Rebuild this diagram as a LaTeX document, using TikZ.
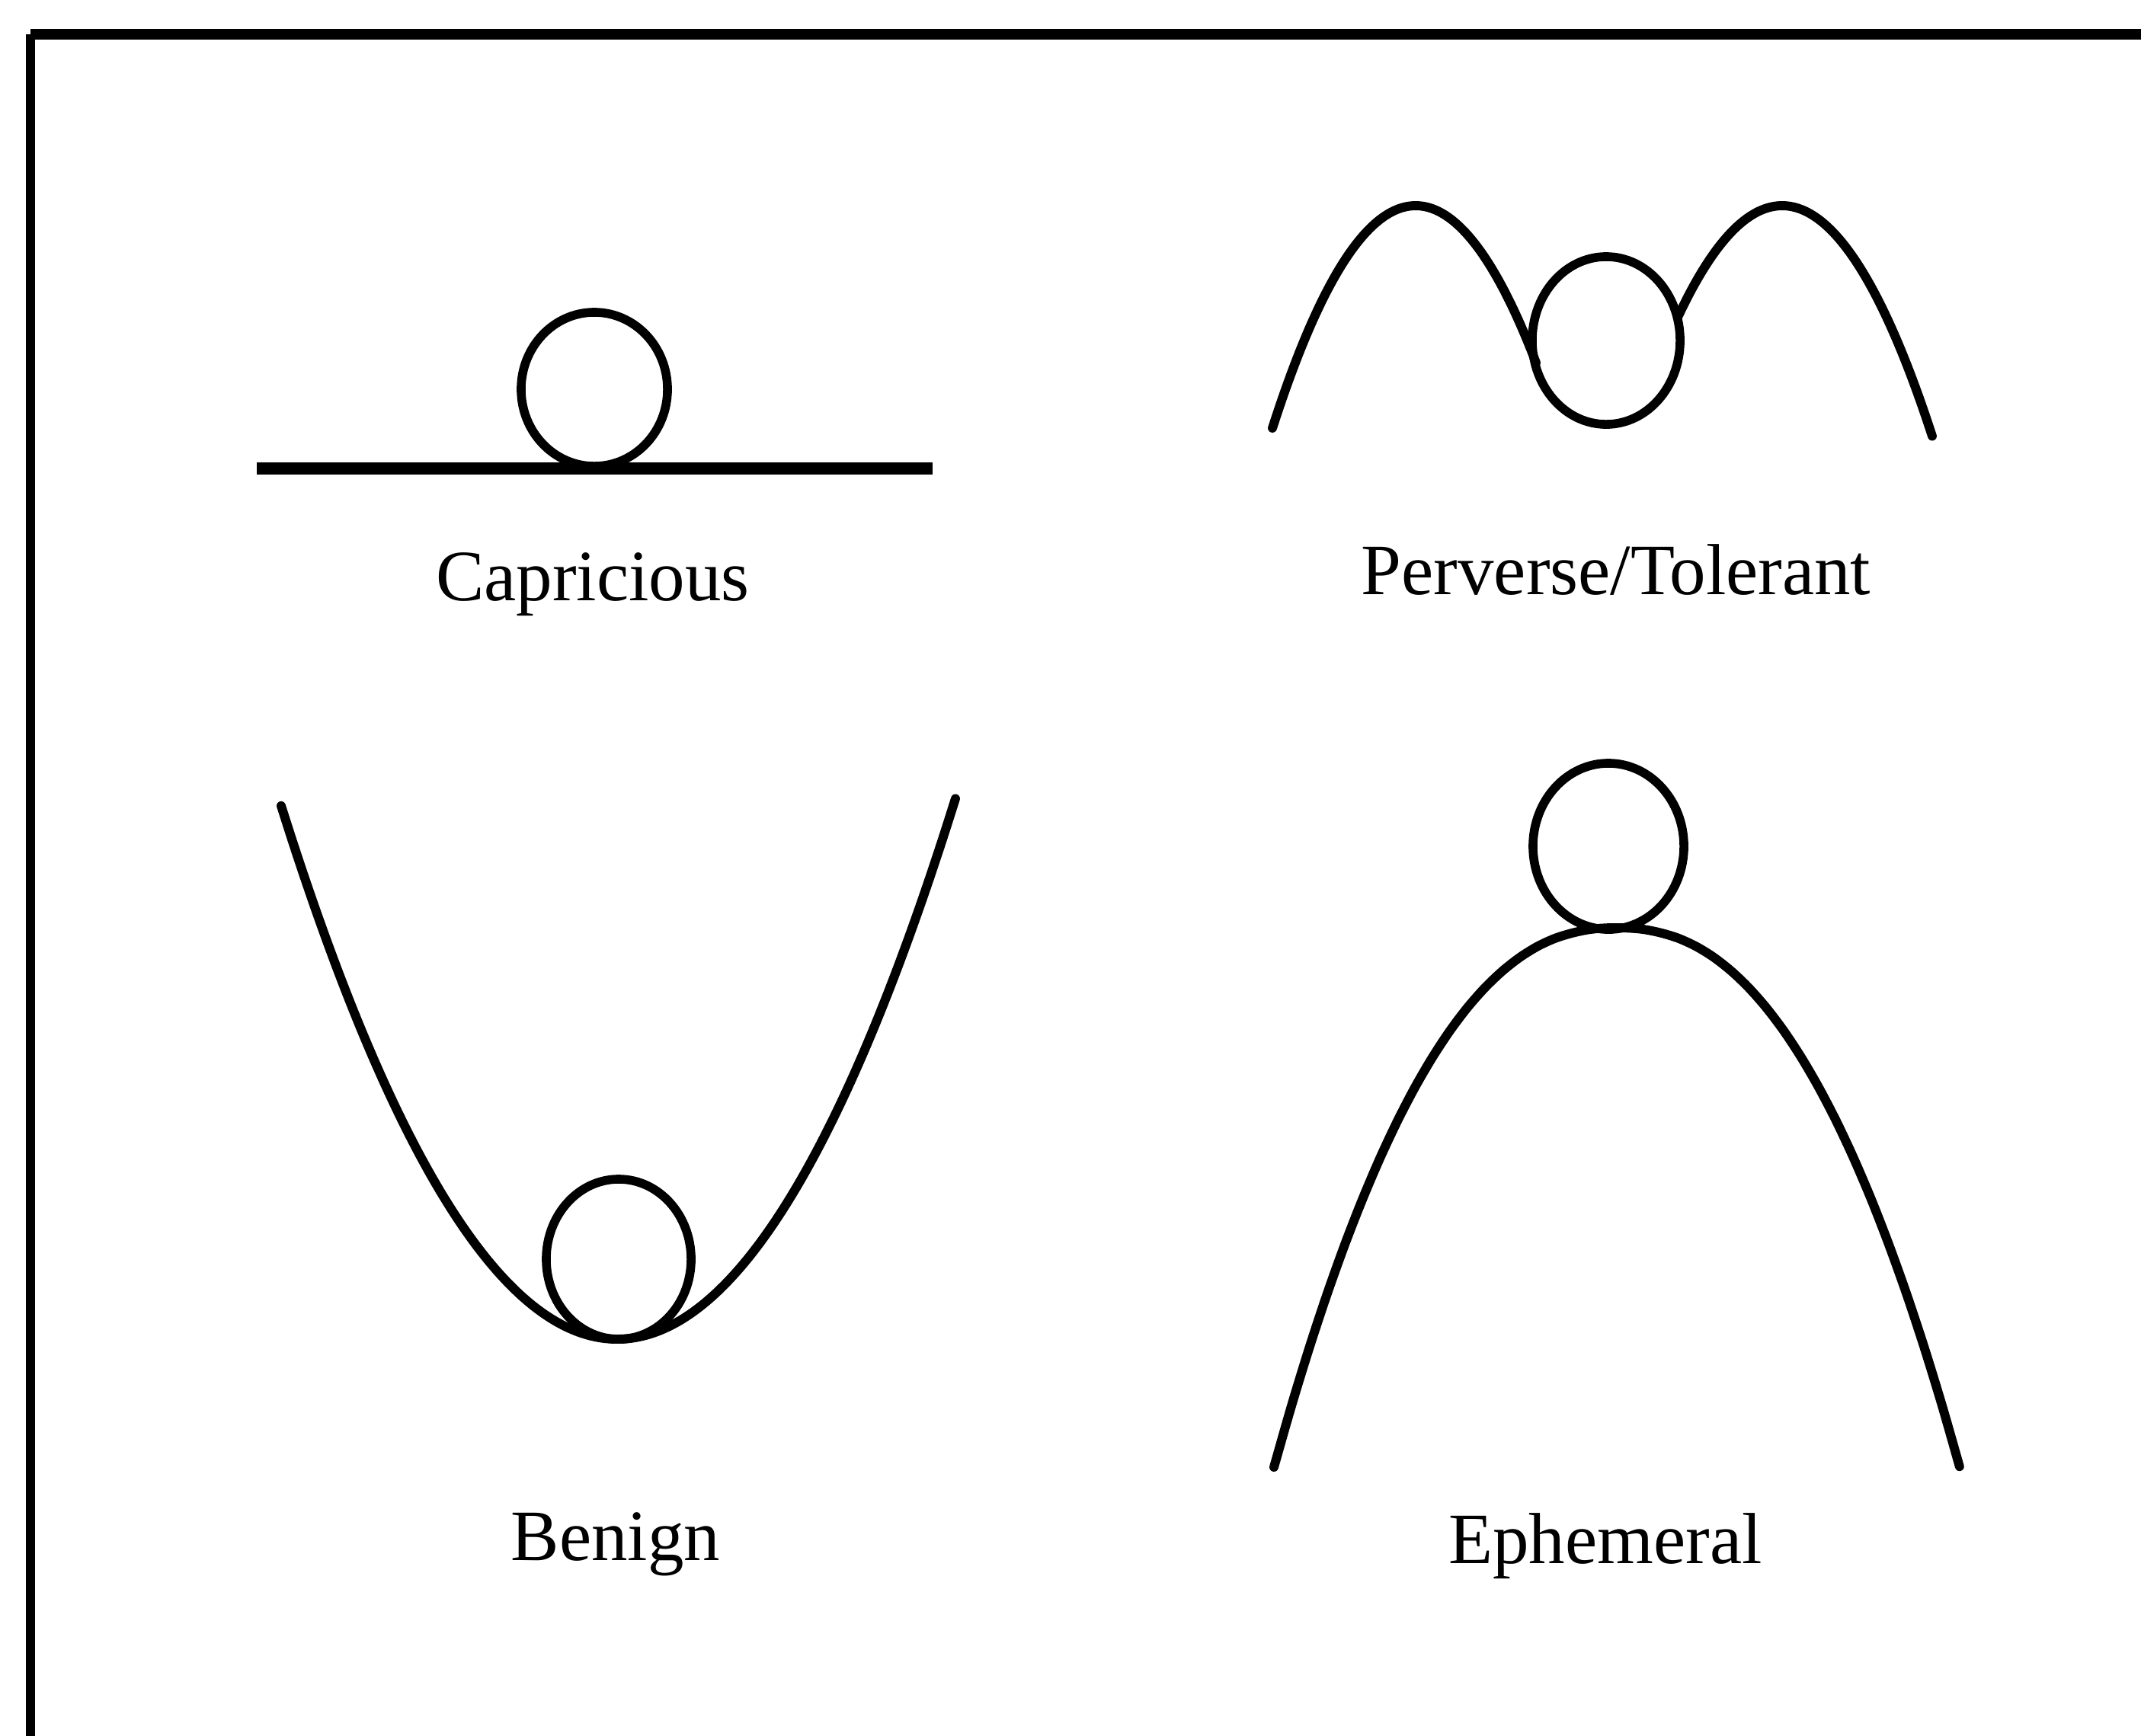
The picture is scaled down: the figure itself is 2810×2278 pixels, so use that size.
\documentclass[tikz,border=0pt]{standalone}
\usepackage{fontspec}
\setmainfont{Liberation Serif}
\begin{document}
\begin{tikzpicture}[x=0.01cm, y=-0.01cm,
  curve/.style={line width=3.4pt, line join=round, line cap=round},
  ball/.style={line width=3.3pt},
  lbl/.style={font=\fontsize{27}{32}\selectfont, inner sep=0pt, anchor=base}]
\useasboundingbox (0,0) rectangle (2810,2278);
% frame (top and left edges only)
\draw[line width=4pt] (40,45) -- (2830,45);
\draw[line width=3.2pt] (40,45) -- (40,2300);

% Capricious
\draw[line width=4.5pt] (337,615) -- (1224,615);
\draw[ball] (780,511) ellipse [x radius=0.96cm, y radius=1.01cm];
\node[lbl] (capl) at (778,788) {Capricious};

% Perverse/Tolerant
\draw[curve] plot[smooth, domain=-1.88:1.58, samples=50] ({1858+100*\x}, {270+82.6*\x*\x});
\draw[curve] plot[smooth, domain=-1.36:1.97, samples=50] ({2339+100*\x}, {270+78*\x*\x});
\draw[ball] (2108,447) ellipse [x radius=0.97cm, y radius=1.10cm];
\node[lbl] (pertl) at (2121,780) {Perverse/Tolerant};

% Benign
\draw[curve] plot[smooth, domain=-4.41:4.44, samples=60] ({810+100*\x}, {1758-36*\x*\x});
\draw[ball] (812,1653) ellipse [x radius=0.95cm, y radius=1.05cm];
\node[lbl] (benl) at (808,2048) {Benign};

% Ephemeral
\draw[curve] plot[smooth, domain=-1:1, samples=40] ({2122+450*\x}, {1218+708*abs(\x)^2.3});
\draw[ball] (2111,1111) ellipse [x radius=0.99cm, y radius=1.09cm];
\node[lbl] (ephl) at (2107,2052) {Ephemeral};
\end{tikzpicture}
\end{document}
